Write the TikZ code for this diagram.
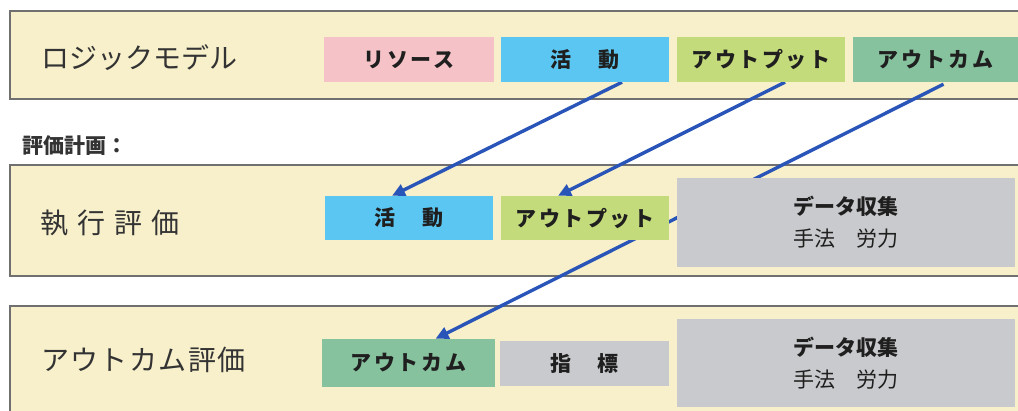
\documentclass[tikz,border=0pt]{standalone}
\usepackage{fontspec}
\setmainfont{Noto Sans CJK JP}
\newfontfamily\boxfont{Noto Sans CJK JP}[LetterSpace=12]
\newfontfamily\widefont{Noto Sans CJK JP}[LetterSpace=5]
\usetikzlibrary{arrows.meta}
\definecolor{bandfill}{HTML}{F7F0CB}
\definecolor{bandline}{HTML}{707070}
\definecolor{respink}{HTML}{F5C3C7}
\definecolor{actblue}{HTML}{5BC6F1}
\definecolor{outlime}{HTML}{C4DB7B}
\definecolor{ocgreen}{HTML}{87C29F}
\definecolor{dcgray}{HTML}{C9CACD}
\definecolor{arrowblue}{HTML}{2A55B8}
\definecolor{labelgray}{HTML}{333333}
\pgfdeclarelayer{bands}
\pgfdeclarelayer{links}
\pgfsetlayers{bands,links,main}
\begin{document}
\begin{tikzpicture}[x=1pt,y=-1pt,
  band/.style={fill=bandfill,draw=bandline,line width=1.5pt},
  bandlabel/.style={anchor=west,inner sep=0,text=labelgray,font=\fontsize{28}{32}\selectfont},
  box/.style={inner sep=0,text=black!88,font=\boxfont\bfseries\fontsize{21}{24}\selectfont},
  dcbox/.style={inner sep=0,text=black!88,fill=dcgray,align=center,minimum width=338pt,minimum height=89pt,font=\bfseries\fontsize{21}{32}\selectfont},
  link/.style={draw=arrowblue,line width=3.4pt,-{Triangle[length=13pt,width=12pt]}}
]
\useasboundingbox (0,0) rectangle (1018,410);
\clip (0,0) rectangle (1018,410);

\begin{pgfonlayer}{bands}
\draw[band] (10,11) rectangle (1030,99);
\draw[band] (10,165) rectangle (1030,276);
\draw[band] (10,306) rectangle (1030,430);
\end{pgfonlayer}

% band labels
\node[bandlabel] (lm) at (41,58) {ロジックモデル};
\node[anchor=west,inner sep=0,text=labelgray,font=\bfseries\fontsize{21}{24}\selectfont] (plan) at (22,146) {評価計画：};
\node[bandlabel] (ie) at (40,223) {執\hspace{9pt}行\hspace{9pt}評\hspace{9pt}価};
\node[bandlabel,font=\widefont\fontsize{28}{32}\selectfont] (oe) at (41,360) {アウトカム評価};

% row 1
\node[box,fill=respink,minimum width=170pt,minimum height=45pt] (res) at (409,59.5) {リソース};
\node[box,fill=actblue,minimum width=168pt,minimum height=45pt] (act1) at (585,59.5) {活　動};
\node[box,fill=outlime,minimum width=168pt,minimum height=45pt] (out1) at (761,59.5) {アウトプット};
\node[box,fill=ocgreen,minimum width=165pt,minimum height=45pt] (oc1) at (935.5,59.5) {アウトカム};

% row 2
\node[box,fill=actblue,minimum width=168pt,minimum height=44pt] (act2) at (409,218) {活　動};
\node[box,fill=outlime,minimum width=168pt,minimum height=44pt] (out2) at (585,218) {アウトプット};
\node[dcbox] (dc2) at (846,222.5) {データ収集\\\mdseries 手法　労力};

% row 3
\node[box,fill=ocgreen,minimum width=173pt,minimum height=48pt] (oc3) at (408.5,363) {アウトカム};
\node[box,fill=dcgray,minimum width=169pt,minimum height=45pt] (ind3) at (584.5,363.5) {指　標};
\node[dcbox,minimum height=88pt] (dc3) at (846,363) {データ収集\\\mdseries 手法　労力};

% links
\begin{pgfonlayer}{links}
\draw[link] ([xshift=37pt]act1.south) -- ([xshift=-17pt]act2.north);
\draw[link] ([xshift=24pt]out1.south) -- ([xshift=-27pt]out2.north);
\draw[link] ([xshift=8pt,yshift=-2pt]oc1.south) -- ([xshift=27pt]oc3.north);
\end{pgfonlayer}
\end{tikzpicture}
\end{document}
